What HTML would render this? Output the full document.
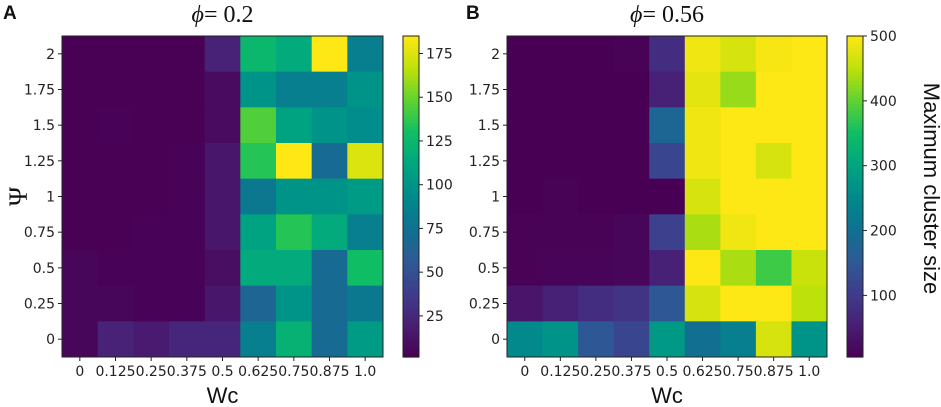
<!DOCTYPE html>
<html><head><meta charset="utf-8">
<style>
html,body{margin:0;padding:0;background:#fff;width:941px;height:407px;overflow:hidden}
</style></head>
<body>
<svg id="fig" width="941" height="407" viewBox="0 0 941 407" xmlns="http://www.w3.org/2000/svg" font-family="DejaVu Sans, Liberation Sans, sans-serif"></svg>
<script>
// ----- data -----
const wcLabels = ["0","0.125","0.25","0.375","0.5","0.625","0.75","0.875","1.0"];
const psiLabels = ["2","1.75","1.5","1.25","1","0.75","0.5","0.25","0"]; // top to bottom
const valuesA = [
 [2,2,2,2,22,125,115,185,85],
 [2,2,2,2,8,100,85,85,100],
 [2,3,2,2,8,145,110,100,95],
 [2,2,2,3,15,135,185,70,175],
 [2,2,2,3,15,80,100,100,105],
 [2,2,3,3,15,110,135,115,85],
 [5,3,3,3,10,115,115,70,130],
 [5,5,3,3,15,65,100,70,80],
 [5,22,18,25,25,85,120,70,105]
];
const valuesB = [
 [5,5,5,10,80,490,470,495,500],
 [5,5,5,5,60,480,430,500,500],
 [5,5,5,5,180,490,500,500,500],
 [5,5,5,5,120,490,500,470,500],
 [5,8,5,5,5,470,500,500,500],
 [8,8,8,15,110,440,490,500,500],
 [8,12,12,15,60,500,440,380,460],
 [40,60,80,90,150,470,500,500,450],
 [250,270,150,120,280,200,230,470,270]
];
const cbTicksA = [25,50,75,100,125,150,175];
const cbTicksB = [100,200,300,400,500];

const NS="http://www.w3.org/2000/svg";
const svg=document.getElementById('fig');
function mk(tag,attrs,parent){const e=document.createElementNS(NS,tag);for(const k in attrs)e.setAttribute(k,attrs[k]);(parent||svg).appendChild(e);return e;}
const vir=[[72,0,84],[72,30,115],[62,60,140],[45,90,150],[15,113,145],[0,138,140],[0,165,128],[15,190,100],[95,210,50],[190,225,10],[253,231,20]];
function viridis(t){t=Math.max(0,Math.min(1,t));const p=t*(vir.length-1);const i=Math.min(vir.length-2,Math.floor(p));const f=p-i;const a=vir[i],b=vir[i+1];return `rgb(${Math.round(a[0]+(b[0]-a[0])*f)},${Math.round(a[1]+(b[1]-a[1])*f)},${Math.round(a[2]+(b[2]-a[2])*f)})`;}
const SERIF='font-family:"Liberation Serif",serif';
const SANS='font-family:"Liberation Sans",sans-serif';
function panel(opt){
  const {x0,y0,w,h,vals,vmin,vmax,cbx,ticks,title,letter,letterX,showPsi,cbLabel}=opt;
  const cw=w/9,ch=h/9;
  const xScale=i=>x0+i*cw, yScale=j=>y0+j*ch;
  const g=mk('g',{});
  
  
  vals.forEach((row,j)=>row.forEach((v,i)=>{
    const r=mk('rect',{x:xScale(i),y:yScale(j),width:cw+0.5,height:ch+0.5,fill:viridis((v-vmin)/(vmax-vmin))},g);
    
    
  }));
  mk('rect',{x:x0,y:y0,width:w,height:h,fill:'none',stroke:'#222','stroke-width':1},g);
  const xa=mk('g',{},g);
  wcLabels.forEach((l,i)=>{const cx=xScale(i)+cw/2;mk('line',{x1:cx,x2:cx,y1:y0+h,y2:y0+h+4,stroke:'#222'},xa);
    const t=mk('text',{x:cx,y:y0+h+19,'font-size':14,'text-anchor':'middle',fill:'#222'},xa);t.textContent=l;});
  const ya=mk('g',{},g);
  psiLabels.forEach((l,j)=>{const cy=yScale(j)+ch/2;mk('line',{x1:x0-4,x2:x0,y1:cy,y2:cy,stroke:'#222'},ya);
    const t=mk('text',{x:x0-7,y:cy+5,'font-size':14,'text-anchor':'end',fill:'#222'},ya);t.textContent=l;});
  const xt=mk('text',{x:x0+w/2,y:403,'font-size':22,'text-anchor':'middle',fill:'#111',style:SANS},g);xt.textContent='Wc';
  
  if(showPsi){const t=mk('text',{x:27,y:y0+h/2,'font-size':26,'text-anchor':'middle',style:SERIF,transform:`rotate(-90 27 ${y0+h/2})`,fill:'#111'},g);t.textContent='Ψ';
    }
  const tt=mk('text',{x:x0+w/2,y:22,'font-size':24,'text-anchor':'middle',style:SERIF,fill:'#111'},g);
  tt.innerHTML='<tspan font-style="italic">ϕ</tspan>= '+title;
  
  const lt=mk('text',{x:letterX,y:19,'font-size':19,'font-weight':'bold',style:SANS,fill:'#111'},g);lt.textContent=letter;
  
  const cb=mk('g',{},g);
  const cbw=16,n=100;
  for(let k=0;k<n;k++){mk('rect',{x:cbx,y:y0+h-(k+1)*h/n,width:cbw,height:h/n+0.6,fill:viridis((k+0.5)/n)},cb);}
  mk('rect',{x:cbx,y:y0,width:cbw,height:h,fill:'none',stroke:'#222'},cb);
  const cs=v=>y0+h-(v-vmin)/(vmax-vmin)*h;
  ticks.forEach(v=>{const y=cs(v);mk('line',{x1:cbx+cbw,x2:cbx+cbw+4,y1:y,y2:y,stroke:'#222'},cb);
    const t=mk('text',{x:cbx+cbw+7,y:y+5,'font-size':14,fill:'#222'},cb);t.textContent=v;});
  if(cbLabel){const cx=924,cy=y0+h/2-8;const t=mk('text',{x:cx,y:cy,'font-size':22,'text-anchor':'middle',transform:`rotate(90 ${cx} ${cy})`,fill:'#111',style:SANS},cb);t.textContent=cbLabel;
    }
}
panel({x0:62,y0:36,w:321,h:321,vals:valuesA,vmin:1.5,vmax:185,cbx:403,ticks:cbTicksA,title:'0.2',letter:'A',letterX:3,showPsi:true});
panel({x0:507,y0:36,w:320,h:321,vals:valuesB,vmin:5,vmax:500,cbx:847,ticks:cbTicksB,title:'0.56',letter:'B',letterX:466,showPsi:false,cbLabel:'Maximum cluster size'});
</script>
</body></html>
